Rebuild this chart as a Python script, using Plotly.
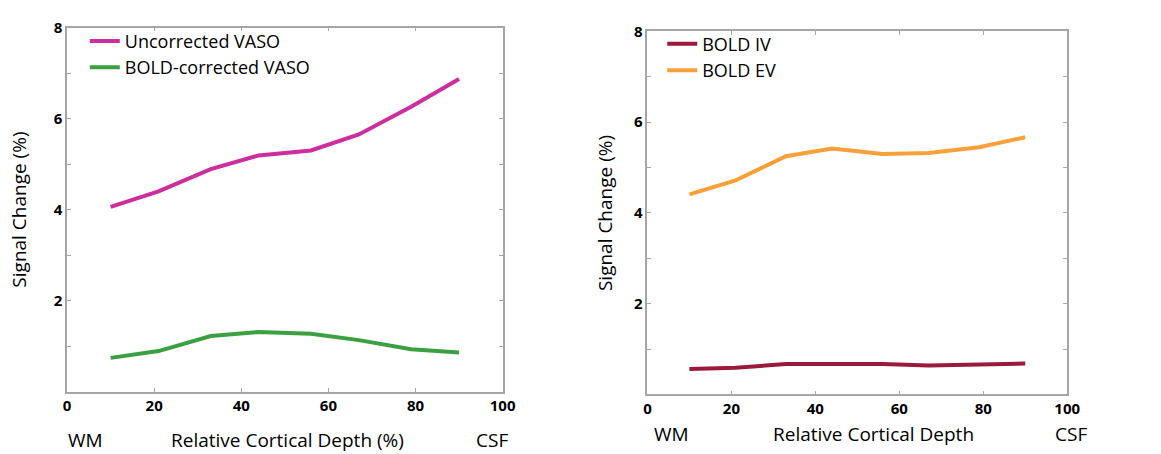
import plotly.graph_objects as go

# ---- data ----
depth = [10, 21, 33, 44, 56, 67, 79, 90]
uncorrected_vaso = [4.06, 4.40, 4.89, 5.19, 5.30, 5.65, 6.26, 6.87]
bold_corrected_vaso = [0.74, 0.89, 1.22, 1.31, 1.27, 1.13, 0.93, 0.86]
bold_iv = [0.56, 0.59, 0.67, 0.68, 0.67, 0.64, 0.67, 0.68]
bold_ev = [4.41, 4.72, 5.25, 5.42, 5.30, 5.32, 5.45, 5.67]

x_tickvals = [0, 20, 40, 60, 80, 100]
x_ticktext = ["0", "20", "40", "60", "80", "100"]
y_tickvals = [0, 1, 2, 3, 4, 5, 6, 7, 8]
y_ticktext = ["", "", "2", "", "4", "", "6", "", "8"]

W, H = 1161, 454
FONT = "Open Sans"
AXIS_GRAY = "#a6a6a6"

fig = go.Figure()

fig.add_trace(go.Scatter(x=depth, y=uncorrected_vaso, mode="lines", name="Uncorrected VASO",
                         line=dict(color="#cc2e9e", width=4), xaxis="x", yaxis="y", legend="legend"))
fig.add_trace(go.Scatter(x=depth, y=bold_corrected_vaso, mode="lines", name="BOLD-corrected VASO",
                         line=dict(color="#3aa042", width=4), xaxis="x", yaxis="y", legend="legend"))
fig.add_trace(go.Scatter(x=depth, y=bold_iv, mode="lines", name="BOLD IV",
                         line=dict(color="#9b1a3c", width=4), xaxis="x2", yaxis="y2", legend="legend2"))
fig.add_trace(go.Scatter(x=depth, y=bold_ev, mode="lines", name="BOLD EV",
                         line=dict(color="#f9a03a", width=4), xaxis="x2", yaxis="y2", legend="legend2"))

def xaxis(domain, anchor):
    return dict(domain=domain, anchor=anchor, range=[0, 100], tickvals=x_tickvals, ticktext=x_ticktext,
                ticks="inside", ticklen=4, tickcolor=AXIS_GRAY, showline=True, linecolor=AXIS_GRAY,
                linewidth=1.5, mirror="ticks", showgrid=False, zeroline=False,
                tickfont=dict(family=FONT, size=15, color="black", weight="bold"))

def yaxis(domain, anchor, standoff):
    return dict(domain=domain, anchor=anchor, range=[0, 8], tickvals=y_tickvals, ticktext=y_ticktext,
                ticks="inside", ticklen=4, tickcolor=AXIS_GRAY, showline=True, linecolor=AXIS_GRAY,
                linewidth=1.5, mirror="ticks", showgrid=False, zeroline=False,
                tickfont=dict(family=FONT, size=15, color="black", weight="bold"),
                title=dict(text="Signal Change (%)", font=dict(family=FONT, size=19, color="black"),
                           standoff=standoff))

fig.update_layout(
    width=W, height=H,
    margin=dict(l=0, r=0, t=0, b=0),
    paper_bgcolor="white", plot_bgcolor="white",
    font=dict(family=FONT, color="black"),
    xaxis=xaxis([64 / W, 506 / W], "y"),
    yaxis=yaxis([1 - 390 / H, 1 - 17 / H], "x", 22),
    xaxis2=xaxis([653 / W, 1079 / W], "y2"),
    yaxis2=yaxis([1 - 393 / H, 1 - 21 / H], "x2", 16),
    legend=dict(x=82 / W, y=1 - 12 / H, xanchor="left", yanchor="top", bgcolor="rgba(0,0,0,0)",
                font=dict(family=FONT, size=18, color="black"), tracegroupgap=0),
    legend2=dict(x=668 / W, y=1 - 15 / H, xanchor="left", yanchor="top", bgcolor="rgba(0,0,0,0)",
                 font=dict(family=FONT, size=18, color="black"), tracegroupgap=0),
    showlegend=True,
)

bottom_labels = [
    ("WM", 83, 440), ("Relative Cortical Depth (%)", 288, 440), ("CSF", 495, 440),
    ("WM", 677, 434), ("Relative Cortical Depth", 882, 434), ("CSF", 1083, 434),
]
for text, px, py in bottom_labels:
    fig.add_annotation(text=text, x=px / W, y=1 - py / H, xref="paper", yref="paper",
                       xanchor="center", yanchor="middle", showarrow=False,
                       font=dict(family=FONT, size=19, color="black"))

fig.write_html("out.html")
